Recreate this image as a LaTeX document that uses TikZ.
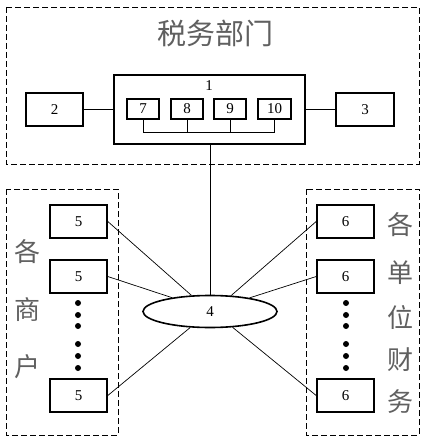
\documentclass[tikz,border=0pt]{standalone}
\usepackage{fontspec}
\setmainfont{Liberation Serif}
\newfontfamily\cjk{Noto Sans CJK SC}
\usetikzlibrary{shapes.geometric}
\definecolor{txtgray}{HTML}{606060}
\begin{document}
\begin{tikzpicture}[x=1pt,y=-1pt,
  thickbox/.style={draw=black,line width=1.6pt,minimum width=57pt,minimum height=33pt,inner sep=0pt,font=\fontsize{15}{15}\selectfont},
  smallbox/.style={draw=black,line width=1.5pt,minimum width=32pt,minimum height=20pt,inner sep=0pt,font=\fontsize{15}{15}\selectfont},
  dashbox/.style={draw=black,line width=0.7pt,dash pattern=on 6pt off 3pt},
  conn/.style={draw=black,line width=0.7pt},
  cjklabel/.style={text=txtgray,font=\cjk\fontsize{26}{26}\selectfont,inner sep=0pt},
  dotmark/.style={circle,fill=black,inner sep=0pt,minimum size=6pt}]
\useasboundingbox (0,0) rectangle (425,438);
\fill[white] (0,0) rectangle (425,438);
% dashed regions
\draw[dashbox] (6,7) rectangle (419,164);
\draw[dashbox] (6,189) rectangle (118,435);
\draw[dashbox] (306,189) rectangle (419,435);
% title
\node[cjklabel,font=\cjk\fontsize{29}{29}\selectfont] (title) at (215,33) {税务部门};
% box 1
\node[draw=black,line width=1.6pt,minimum width=191pt,minimum height=69pt,inner sep=0pt] (b1) at (209.5,109.5) {};
\node[font=\fontsize{15}{15}\selectfont,inner sep=0pt] (l1) at (209,86) {1};
\node[smallbox] (b7) at (143,109) {7};
\node[smallbox] (b8) at (187,109) {8};
\node[smallbox] (b9) at (230,109) {9};
\node[smallbox,minimum width=33pt] (b10) at (274.5,109) {10};
\coordinate (bus7) at (143,132);
\coordinate (bus10) at (274.5,132);
\draw[conn] (b7.south) -- (bus7) -- (bus10) -- (b10.south);
\draw[conn] (b8.south) -- (b8.south |- bus7);
\draw[conn] (b9.south) -- (b9.south |- bus7);
% boxes 2, 3
\node[thickbox] (b2) at (54.5,109.5) {2};
\node[thickbox,minimum width=58pt] (b3) at (365,109.5) {3};
\draw[conn] (b2.east) -- (b2.east -| b1.west);
\draw[conn] (b1.east |- b3.west) -- (b3.west);
% ellipse 4
\node[ellipse,draw=black,line width=1.6pt,minimum width=134pt,minimum height=32pt,inner sep=0pt,font=\fontsize{15}{15}\selectfont] (e4) at (210,311.5) {4};
\draw[conn] (b1.south -| e4.north) -- (e4.north);
% merchants
\node[thickbox] (m1) at (78.5,221.5) {5};
\node[thickbox] (m2) at (78.5,276.5) {5};
\node[thickbox] (m3) at (78.5,395.5) {5};
% finance units
\node[thickbox] (f1) at (345.5,221.5) {6};
\node[thickbox] (f2) at (345.5,276.5) {6};
\node[thickbox] (f3) at (345.5,395.5) {6};
% connectors
\draw[conn] (m1.east) -- (e4.139);
\draw[conn] (m2.east) -- (e4.160);
\draw[conn] (m3.east) -- (e4.219);
\draw[conn] (f1.west) -- (e4.37);
\draw[conn] (f2.west) -- (e4.19);
\draw[conn] (f3.west) -- (e4.-35);
% dots
\foreach \i/\y in {1/303,2/315,3/326,4/344,5/356,6/368}{
  \node[dotmark] (ld\i) at (78,\y) {};
  \node[dotmark] (rd\i) at (346,\y) {};
}
% side labels
\node[cjklabel] (s1) at (27,252) {各};
\node[cjklabel] (s2) at (27,310) {商};
\node[cjklabel] (s3) at (27,367) {户};
\node[cjklabel] (r1) at (400,225) {各};
\node[cjklabel] (r2) at (400,273) {单};
\node[cjklabel] (r3) at (400,317) {位};
\node[cjklabel] (r4) at (400,360) {财};
\node[cjklabel] (r5) at (400,402) {务};
\end{tikzpicture}
\end{document}
